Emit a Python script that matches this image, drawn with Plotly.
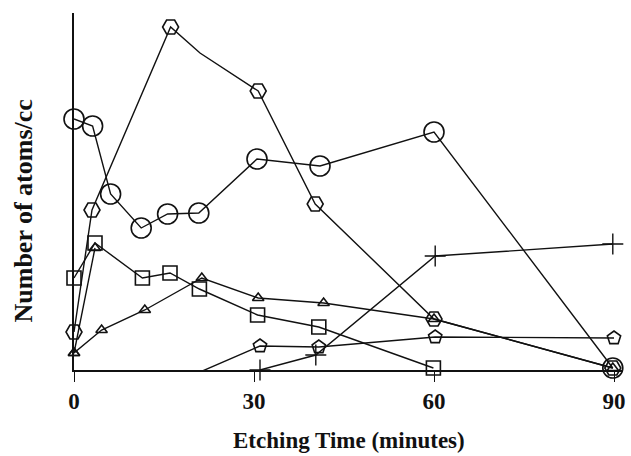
import plotly.graph_objects as go

# Data (y in arbitrary units, 0 = baseline)
hex_x = [0, 3.0, 16.1, 21.0, 30.7, 40.2, 60.0, 89.8]
hex_y = [38, 160, 343, 317, 279, 166, 51, 2]
hex_bend = 3  # index of the unmarked bend in the hexagon curve

circ_x = [0, 3.1, 6.1, 11.2, 15.6, 20.8, 30.5, 41.0, 60.0, 89.8]
circ_y = [251, 244, 176, 142, 156, 157, 211, 204, 238, 2]

sq_x = [0, 3.5, 11.4, 16.0, 20.9, 30.6, 40.8, 59.9]
sq_y = [92, 127, 92, 97, 81, 55, 43, 2]

tri_x = [0, 4.6, 11.8, 21.3, 30.7, 41.6, 60.0, 89.8]
tri_y = [17, 40, 60, 92, 72, 67, 51, 2]

tri2_x = [0, 3.5]
tri2_y = [17, 122]

pent_x = [21.0, 31.0, 40.8, 60.2, 90.0]
pent_y = [-2, 24, 23, 33, 32]

plus_x = [31.0, 40.3, 60.2, 89.8]
plus_y = [0, 15, 114, 126]

x_ticks = [0, 30, 60, 90]
x_title = "Etching Time (minutes)"
y_title = "Number of atoms/cc"

FONT = "Liberation Serif"
BLACK = "#111111"

fig = go.Figure()

def add(x, y, symbol, size, mlw=1.6, mode="lines+markers"):
    fig.add_trace(go.Scatter(
        x=x, y=y, mode=mode,
        line=dict(color=BLACK, width=1.4),
        marker=dict(symbol=symbol, size=size,
                    color=BLACK, line=dict(color=BLACK, width=mlw)),
        cliponaxis=False, showlegend=False,
    ))

# hexagon series: line through all points, markers except at the bend
add(hex_x, hex_y, "hexagon2-open", 16, mode="lines")
add([v for i, v in enumerate(hex_x) if i != hex_bend],
    [v for i, v in enumerate(hex_y) if i != hex_bend],
    "hexagon2-open", 16, mode="markers")
add(circ_x, circ_y, "circle-open", 20)
add(sq_x, sq_y, "square-open", 14)
add(tri_x, tri_y, "triangle-up-open", 10)
add(tri2_x, tri2_y, "triangle-up-open", 10)
add(pent_x, pent_y, "pentagon-open", 14)
add(plus_x, plus_y, "cross-thin-open", 15, mlw=1.4)

fig.update_layout(
    width=631, height=456,
    margin=dict(l=74, r=6, t=13, b=86),
    plot_bgcolor="white", paper_bgcolor="white",
    font=dict(family=FONT, color=BLACK),
    xaxis=dict(
        range=[0, 91.5], tickvals=x_ticks, ticktext=[str(t) for t in x_ticks],
        showline=True, linecolor=BLACK, linewidth=1.6,
        ticks="outside", ticklen=10, tickwidth=1.4, tickcolor=BLACK,
        showgrid=False, zeroline=False,
        tickfont=dict(family=FONT, size=23, weight="bold", color=BLACK),
        ticklabelstandoff=0,
    ),
    yaxis=dict(
        range=[0, 357], showticklabels=False,
        showline=True, linecolor=BLACK, linewidth=1.6,
        showgrid=False, zeroline=False, ticks="",
    ),
    annotations=[
        dict(text=x_title, xref="paper", yref="paper", x=0.5, y=0,
             xanchor="center", yanchor="middle",
             yshift=-70, showarrow=False,
             font=dict(family=FONT, size=23, weight="bold", color=BLACK)),
        dict(text=y_title, xref="paper", yref="paper", x=0, y=0.5,
             xanchor="center", yanchor="middle",
             xshift=-51, yshift=-20, textangle=-90, showarrow=False,
             font=dict(family=FONT, size=26, weight="bold", color=BLACK)),
    ],
)

fig.write_html("out.html")
